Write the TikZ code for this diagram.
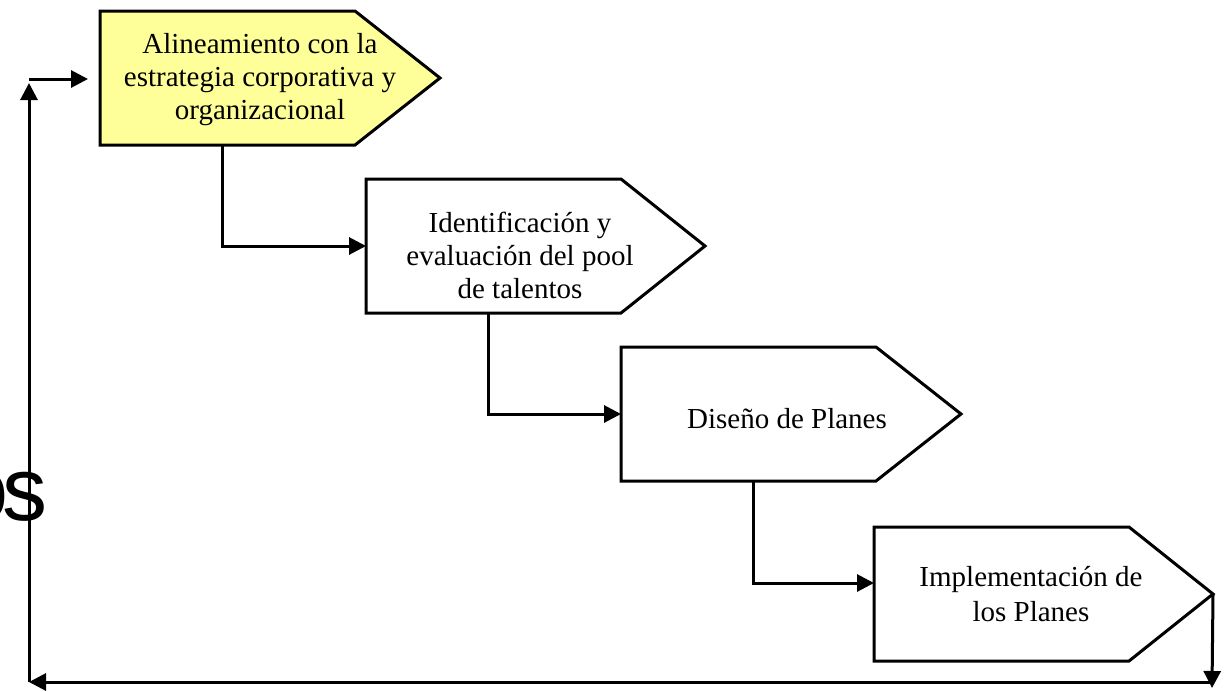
\documentclass[tikz,border=0pt]{standalone}
\usepackage{fontspec}
\setmainfont{Liberation Serif}
\newfontfamily\sansf{Liberation Sans}
\usetikzlibrary{arrows.meta,calc}
\definecolor{paleyellow}{HTML}{FFFF99}

\tikzset{
  boxpart/.style={minimum width=127.5pt, minimum height=67pt, inner sep=0pt,
                  outer sep=0pt, anchor=north west},
  pent/.style={draw=black, line width=1.5pt, line join=miter},
  label/.style={align=center, inner sep=0pt,
                font=\fontsize{14.5}{16.5}\selectfont},
  flow/.style={line width=1.5pt, -{Triangle[length=8.5pt,width=8.5pt]}},
}

\begin{document}
\begin{tikzpicture}[x=0.5pt,y=-0.5pt]
  \useasboundingbox (0,0) rectangle (1230,691);

  % side caption, cut by the page edge
  \node[anchor=base east, inner sep=0pt, font=\sansf\fontsize{45}{50}\selectfont]
    (side) at (48,520) {o\kern-3pt s};

  % rectangular parts of the four step shapes
  \node[boxpart] (b1) at (100,11) {};
  \node[boxpart] (b2) at (366,179) {};
  \node[boxpart] (b3) at (621,347) {};
  \node[boxpart] (b4) at (874,527) {};

  % pointed outlines
  \draw[pent, fill=paleyellow] (b1.north west) -- (b1.north east) -- ($(b1.east)+(85,0)$)
        -- (b1.south east) -- (b1.south west) -- cycle;
  \draw[pent, fill=white] (b2.north west) -- (b2.north east) -- ($(b2.east)+(84,0)$)
        -- (b2.south east) -- (b2.south west) -- cycle;
  \draw[pent, fill=white] (b3.north west) -- (b3.north east) -- ($(b3.east)+(85,0)$)
        -- (b3.south east) -- (b3.south west) -- cycle;
  \draw[pent, fill=white] (b4.north west) -- (b4.north east) -- ($(b4.east)+(84,0)$)
        -- (b4.south east) -- (b4.south west) -- cycle;

  % step texts
  \node[label] (t1) at (260,80) {Alineamiento con la\\estrategia corporativa y\\organizacional};
  \node[label] (t2) at (520,255) {Identificación y\\evaluación del pool\\de talentos};
  \node[label] (t3) at (787,419) {Diseño de Planes};
  \node[label, font=\fontsize{14.5}{17.5}\selectfont] (t4) at (1031,594)
    {Implementación de\\los Planes};

  % step-to-step connectors
  \draw[flow] ($(b1.south west)+(122,0)$) |- (b2.west);
  \draw[flow] ($(b2.south west)+(122,0)$) |- (b3.west);
  \draw[flow] ($(b3.south west)+(132,0)$) |- ($(b4.west)+(0,-11)$);

  % feedback loop back to the first step
  \coordinate (tip4) at ($(b4.east)+(84,0)$);
  \coordinate (br) at (1212,682);
  \coordinate (bl) at (29,682);
  \coordinate (tl) at (29,83);
  \coordinate (tls) at (29,79);
  \coordinate (in1) at (88,79);
  \draw[flow] (tip4) -- ($(br)+(0,6)$);
  \draw[flow] (br) -- (bl);
  \draw[flow] (bl) -- (tl);
  \draw[flow] (tls) -- (in1);
\end{tikzpicture}
\end{document}
